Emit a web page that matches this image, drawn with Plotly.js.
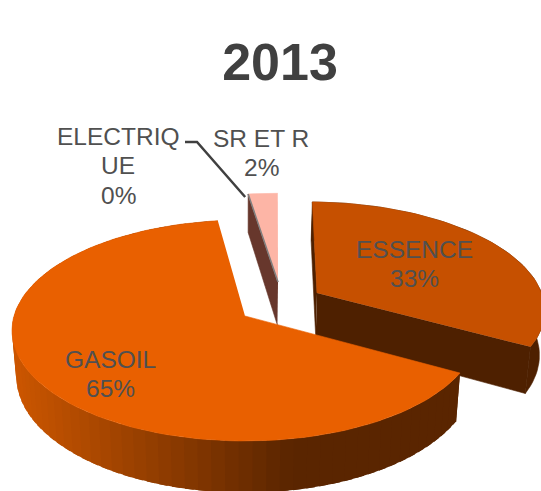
<!DOCTYPE html>
<html>
<head>
<meta charset="utf-8">
<script src="https://cdn.plot.ly/plotly-3.0.1.min.js"></script>
<style>html,body{margin:0;padding:0;background:#fff}#c{width:541px;height:491px}</style>
</head>
<body>
<div id="c"></div>
<script>
const chartTitle = '2013';
const categories = ['ESSENCE', 'GASOIL', 'ELECTRIQUE', 'SR ET R'];
const labelLines = [['ESSENCE'], ['GASOIL'], ['ELECTRIQ', 'UE'], ['SR ET R']];
const values = [32.9, 64.7, 0, 2.4];
const topColors = ['#C65000', '#E96000', '#7F7F7F', '#FDB5A6'];
const sideColors = ['#4E2000', '#5A2500', '#7F7F7F', '#67372C'];
const explodeU = [0.3206, 0, 0.149, 0.149];
const explodeV = [-0.218, 0, -0.326, -0.326];
const labelX = [414, 110, 118, 261];
const labelY = [249, 359, 136, 138];

// Perspective view of the pie disc
const cx = 245, cy = 316, A = 231, B = 108.6, persp = 0.131, depth = 45, rotation = 1;
const lineGap = 29.5;
function proj(U, V, z) {
  const f = 1 / (1 - persp * V), s = 1 - 0.018 * z;
  return [cx + A * U * f * s, cy + B * V * f + depth * z * f];
}
function rim(i, deg, z) {
  const t = (deg + rotation) * Math.PI / 180;
  return proj(explodeU[i] + Math.sin(t), explodeV[i] - Math.cos(t), z);
}
function apex(i, z) { return proj(explodeU[i], explodeV[i], z); }

const total = values.reduce((a, b) => a + b, 0);
const starts = [], ends = [];
values.reduce((acc, v, i) => {
  starts[i] = acc; ends[i] = acc + v / total * 360; return ends[i];
}, 0);

const traces = [];
function poly(pts, color, width) {
  traces.push({
    type: 'scatter', mode: 'lines', fill: 'toself', fillcolor: color,
    x: pts.map(p => p[0]), y: pts.map(p => p[1]),
    line: {color: color, width: width === undefined ? 0.6 : width}, hoverinfo: 'skip', showlegend: false
  });
}
function arc(i, a0, a1, z) {
  const n = Math.max(2, Math.ceil(Math.abs(a1 - a0) / 2)), out = [];
  for (let k = 0; k <= n; k++) out.push(rim(i, a0 + (a1 - a0) * k / n, z));
  return out;
}
function topFace(i) { return [apex(i, 0), ...arc(i, starts[i], ends[i], 0)]; }
function wall(i, a0, a1) { return [...arc(i, a0, a1, 0), ...arc(i, a1, a0, 1)]; }
function cutFace(i, deg) { return [apex(i, 0), rim(i, deg, 0), rim(i, deg, 1), apex(i, 1)]; }

// SR ET R
poly(cutFace(3, starts[3]), sideColors[3]);
poly(topFace(3), topColors[3]);
// ELECTRIQUE: the empty slice is only a thin edge
traces.push({
  type: 'scatter', mode: 'lines',
  x: [apex(3, 0)[0], rim(3, starts[3], 0)[0]],
  y: [apex(3, 0)[1], rim(3, starts[3], 0)[1]],
  line: {color: topColors[2], width: 1.5}, hoverinfo: 'skip', showlegend: false
});
// ESSENCE
poly(cutFace(0, starts[0]), sideColors[0]);
poly(wall(0, starts[0], ends[0]), sideColors[0]);
poly(cutFace(0, ends[0]), sideColors[0]);
poly(topFace(0), topColors[0]);
// GASOIL: shaded wall, drawn left to right with overlapping strips so no seams show
function mix(a, b, t) {
  return 'rgb(' + a.map((v, k) => Math.round(v + (b[k] - v) * t)).join(',') + ')';
}
const shadeL = [204, 86, 0], shadeR = [90, 37, 0];
const step = 3;
const strips = [];
for (let d = ends[1]; d > starts[1]; d -= step) strips.push(d);
strips.forEach(d => {
  const d0 = Math.max(starts[1], d - step - 2);
  const xm = rim(1, d - step / 2, 1)[0];
  const t = Math.min(1, Math.max(0, (xm - 17) / (290 - 17)));
  poly(wall(1, d0, d), mix(shadeL, shadeR, t), 0);
});
poly(topFace(1), topColors[1]);
// Leader line of ELECTRIQUE
const tip = rim(3, starts[3], 0);
traces.push({
  type: 'scatter', mode: 'lines',
  x: [185, 197, tip[0] - 3], y: [142, 142, tip[1] + 3],
  line: {color: '#404040', width: 2.5}, hoverinfo: 'skip', showlegend: false
});

const annotations = [];
categories.forEach((c, i) => {
  const lines = [...labelLines[i], Math.round(values[i] / total * 100) + '%'];
  lines.forEach((txt, k) => annotations.push({
    x: labelX[i], y: labelY[i] + k * lineGap, xref: 'x', yref: 'y',
    text: txt, showarrow: false, xanchor: 'center', yanchor: 'middle', align: 'center',
    font: {family: '"Liberation Sans", Arial, sans-serif', size: 24.5, color: '#505050'}
  }));
});

Plotly.newPlot('c', traces, {
  width: 541, height: 491,
  margin: {l: 0, r: 0, t: 0, b: 0},
  paper_bgcolor: '#fff', plot_bgcolor: '#fff', showlegend: false,
  title: {
    text: chartTitle, x: 280 / 541, y: 1 - 62 / 491, xanchor: 'center', yanchor: 'middle',
    font: {family: '"Liberation Sans", Arial, sans-serif', size: 52, weight: 700, color: '#404040'}
  },
  xaxis: {range: [0, 541], visible: false, fixedrange: true},
  yaxis: {range: [491, 0], visible: false, fixedrange: true},
  annotations: annotations
}, {displayModeBar: false, staticPlot: true});
</script>
</body>
</html>
